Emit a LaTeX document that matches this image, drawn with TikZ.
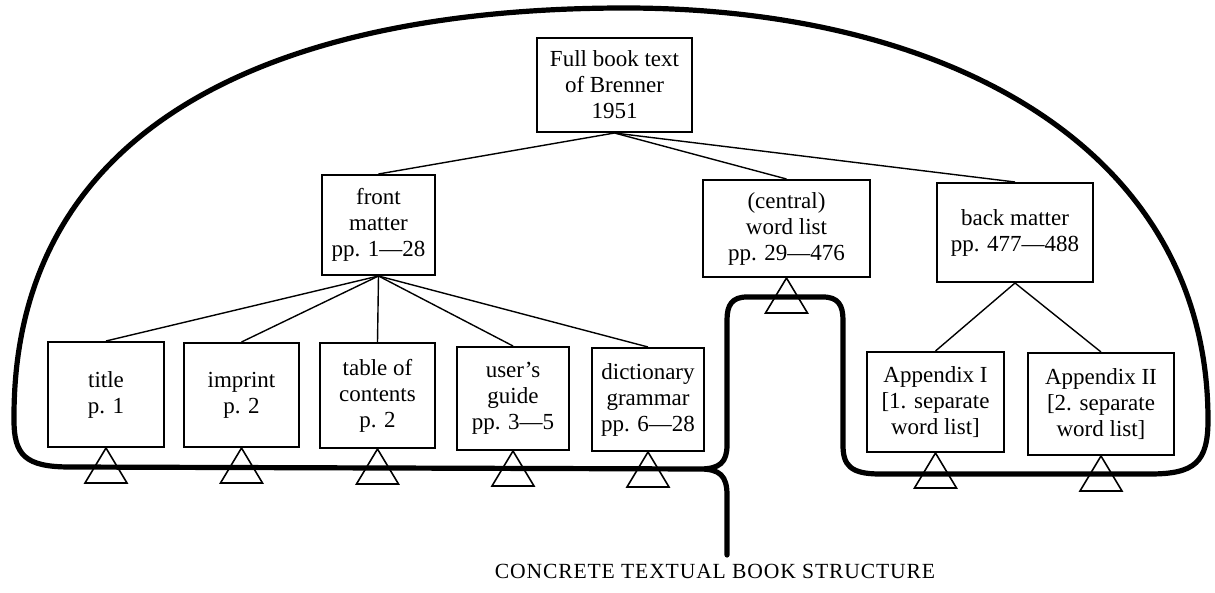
\documentclass[tikz,border=0pt]{standalone}
\usepackage{fontspec}
\setmainfont{Liberation Serif}
\newcommand\bookTri[1]{\draw[tri] (#1.south) -- ++(-10.5pt,-17.5pt) -- ++(21pt,0pt) -- cycle;}
\begin{document}
\begin{tikzpicture}[x=0.5pt,y=-0.5pt,
  box/.style={draw,line width=1pt,align=center,inner sep=0pt,font=\fontsize{11.5}{13}\selectfont},
  link/.style={line width=0.7pt},
  tri/.style={line width=0.8pt,line join=miter},
  outline/.style={line width=2.6pt,line join=round,line cap=round}]
\useasboundingbox (0,0) rectangle (1215,593);
% outline
\draw[outline] (727,555) -- (727,495) .. controls (727,476) and (720,469) .. (700,469)
  -- (70,467) .. controls (25,467) and (14,455) .. (14,420)
  .. controls (12,110) and (300,8) .. (625,8)
  .. controls (950,8) and (1208,150) .. (1208,420)
  .. controls (1208,462) and (1195,474) .. (1150,474)
  -- (880,474) .. controls (850,474) and (843,465) .. (843,445)
  -- (843,320) .. controls (843,305) and (838,297) .. (823,297)
  -- (747,297) .. controls (732,297) and (727,305) .. (727,320)
  -- (727,445) .. controls (727,462) and (720,469) .. (700,469);
% nodes
\node[box,minimum width=77.5pt,minimum height=47pt] (root) at (614.5,85) {Full book text\\of Brenner\\1951};
\node[box,minimum width=56.5pt,minimum height=50pt] (front) at (378.5,225) {front\\matter\\pp. 1—28};
\node[box,minimum width=83.5pt,minimum height=48.5pt] (central) at (786.5,228.5) {(central)\\word list\\pp. 29—476};
\node[box,minimum width=78pt,minimum height=49.5pt] (back) at (1015,232.5) {back matter\\pp. 477—488};
\node[box,minimum width=58pt,minimum height=52.5pt] (title) at (106,394.5) {title\\p. 1};
\node[box,minimum width=57.5pt,minimum height=52pt] (imprint) at (241.5,395) {imprint\\p. 2};
\node[box,minimum width=57.5pt,minimum height=52.5pt] (toc) at (377.5,395.5) {table of\\contents\\p. 2};
\node[box,minimum width=56pt,minimum height=51.5pt] (guide) at (513,398.5) {user's\\guide\\pp. 3—5};
\node[box,minimum width=56pt,minimum height=51.5pt] (dict) at (648,399.5) {dictionary\\grammar\\pp. 6—28};
\node[box,minimum width=68.5pt,minimum height=50pt] (app1) at (935.5,402) {Appendix I\\{[}1. separate\\word list{]}};
\node[box,minimum width=73pt,minimum height=51pt] (app2) at (1101,404) {Appendix II\\{[}2. separate\\word list{]}};
% links
\draw[link] (root.south) -- (front.north);
\draw[link] (root.south) -- (central.north);
\draw[link] (root.south) -- (back.north);
\foreach \n in {title,imprint,toc,guide,dict} \draw[link] (front.south) -- (\n.north);
\draw[link] (back.south) -- (app1.north);
\draw[link] (back.south) -- (app2.north);
% triangles
\foreach \n in {title,imprint,toc,guide,dict,central,app1,app2} {\bookTri{\n}}
% caption
\node[anchor=base,font=\fontsize{10.8}{12}\selectfont\addfontfeatures{LetterSpace=4}] (cap) at (715,578) {CONCRETE TEXTUAL BOOK STRUCTURE};
\end{tikzpicture}
\end{document}
